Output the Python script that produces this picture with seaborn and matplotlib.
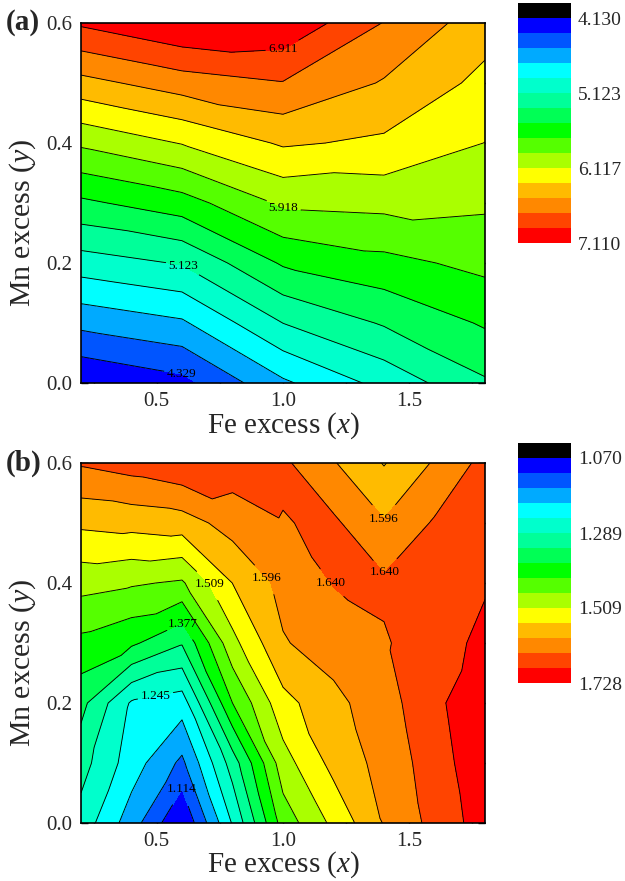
import numpy as np
import matplotlib
matplotlib.use("Agg")
import matplotlib.pyplot as plt
from matplotlib.colors import ListedColormap, BoundaryNorm
from matplotlib.tri import Triangulation
import seaborn as sns

# ---------------- data ----------------
mn_excess = [0.0, 0.1, 0.2, 0.3, 0.4, 0.5, 0.6]

fe_excess_a = [0.2, 0.6, 1.0, 1.4, 1.8]
z_a = [
    [4.130, 4.264, 4.692, 4.988, 5.296],
    [4.582, 4.696, 5.125, 5.342, 5.544],
    [5.029, 5.138, 5.546, 5.661, 5.774],
    [5.481, 5.633, 5.950, 5.975, 5.951],
    [5.953, 6.127, 6.341, 6.280, 6.114],
    [6.449, 6.612, 6.702, 6.497, 6.260],
    [6.941, 7.110, 7.076, 6.704, 6.405],
]

fe_excess_b = [0.2, 0.4, 0.6, 0.8, 1.0, 1.2, 1.4, 1.6, 1.8]
z_b = [
    [1.272, 1.1785, 1.070, 1.249, 1.440, 1.519, 1.599, 1.654, 1.706],
    [1.3066, 1.2234, 1.148, 1.310, 1.490, 1.5663, 1.612, 1.662, 1.718],
    [1.3467, 1.240, 1.2225, 1.421, 1.538, 1.584, 1.623, 1.6714, 1.728],
    [1.4094, 1.385, 1.337, 1.495, 1.593, 1.6166, 1.636, 1.665, 1.695],
    [1.4806, 1.470, 1.4591, 1.553, 1.610, 1.642, 1.648, 1.665, 1.680],
    [1.5614, 1.568, 1.5756, 1.615, 1.638, 1.648, 1.600, 1.645, 1.667],
    [1.6453, 1.660, 1.678, 1.665, 1.6486, 1.5996, 1.550, 1.601, 1.6544],
]

range_a = [4.130, 7.110]
range_b = [1.070, 1.728]
cbar_labels_a = ["4.130", "5.123", "6.117", "7.110"]
cbar_labels_b = ["1.070", "1.289", "1.509", "1.728"]
label_levels_a = [1, 5, 9, 14]
label_pos_a = [(0.6, 0.017), (0.6, 0.191), (1.0, 0.292), (1.0, 0.557)]
label_levels_b = [1, 4, 7, 10, 12, 13]
label_pos_b = [(0.6, 0.06), (0.5, 0.2), (0.6, 0.33), (0.718, 0.4), (0.916, 0.4),
               (1.186, 0.398), (1.404, 0.505), (1.404, 0.418)]

block_colors = ["#000000", "#0000FF", "#0055FF", "#00AAFF", "#00FFFF", "#00FFCC",
                "#00FF99", "#00FF55", "#00FF00", "#55FF00", "#AAFF00", "#FFFF00",
                "#FFBB00", "#FF8800", "#FF4400", "#FF0000"]

# ---------------- style ----------------
sns.set_style("ticks")
plt.rcParams["font.family"] = ["Liberation Serif", "DejaVu Serif"]
plt.rcParams["mathtext.fontset"] = "custom"
plt.rcParams["mathtext.rm"] = "Liberation Serif"
plt.rcParams["mathtext.it"] = "Liberation Serif:italic"

W, H = 625, 881
fig = plt.figure(figsize=(W / 100, H / 100), dpi=100)


def fx(px):
    return px / W


def fy(py):
    return 1 - py / H


def grid_triangulation(fe, Z):
    """Split every grid cell along its flatter diagonal (linear interpolation)."""
    nx, ny = len(fe), len(mn_excess)
    X, Y = np.meshgrid(fe, mn_excess)
    zf = Z.ravel()
    tris = []
    for j in range(ny - 1):
        for i in range(nx - 1):
            bl, br = j * nx + i, j * nx + i + 1
            tl, tr = (j + 1) * nx + i, (j + 1) * nx + i + 1
            if abs(zf[tl] - zf[br]) < abs(zf[bl] - zf[tr]):
                tris += [[bl, br, tl], [br, tr, tl]]
            else:
                tris += [[bl, br, tr], [bl, tr, tl]]
    return Triangulation(X.ravel(), Y.ravel(), np.array(tris))


def panel(top_px, fe, z, rng, cbar_labels, lab_levels, lab_pos, tag, xlab_base):
    ax = fig.add_axes([fx(81), fy(top_px + 360), fx(404), 360 / H])
    levels = np.linspace(rng[0], rng[1], 16)
    cmap = ListedColormap(block_colors[1:])
    cmap.set_under(block_colors[0])
    cmap.set_over(block_colors[-1])
    norm = BoundaryNorm(levels, cmap.N)
    Z = np.array(z)
    tri = grid_triangulation(fe, Z)
    zf = Z.ravel()
    ax.tricontourf(tri, zf, levels=levels, cmap=cmap, norm=norm, extend="both")
    plain = [levels[k] for k in range(1, 15) if k not in lab_levels]
    labeled = [levels[k] for k in lab_levels]
    ax.tricontour(tri, zf, levels=plain, colors="k", linewidths=0.65)
    cl = ax.tricontour(tri, zf, levels=labeled, colors="k", linewidths=0.65)
    texts = ax.clabel(cl, manual=lab_pos, inline=True, fmt="%.3f", fontsize=9.5,
                      inline_spacing=3)
    for t in texts:
        t.set_rotation(0)
    ax.set_xlim(0.2, 1.8)
    ax.set_ylim(0.0, 0.6)
    ax.set_xticks([0.5, 1.0, 1.5])
    ax.set_xticks([0.25, 0.75, 1.25, 1.75], minor=True)
    ax.set_yticks([0.0, 0.2, 0.4, 0.6])
    ax.set_yticks([0.1, 0.3, 0.5], minor=True)
    ax.set_xticklabels(["0.5", "1.0", "1.5"])
    ax.set_yticklabels(["0.0", "0.2", "0.4", "0.6"])
    for which in ("major", "minor"):
        ax.tick_params(which=which, direction="in", top=True, right=True,
                       length=5, width=1.0, color="k")
    ax.tick_params(which="major", labelsize=15, pad=6)
    ax.tick_params(axis="x", which="major", pad=6.5)
    for s in ax.spines.values():
        s.set_linewidth(1.2)
        s.set_color("k")
    fig.text(fx(283), fy(xlab_base), "Fe excess ($x$)", fontsize=21,
             ha="center", va="baseline")
    fig.text(fx(23), fy(top_px + 200), "Mn excess ($y$)", fontsize=21.5,
             ha="center", va="center", rotation=90)
    fig.text(fx(6), fy(top_px), tag, fontsize=21, fontweight="bold",
             ha="left", va="center")

    # discrete colour scale drawn with seaborn
    cax = fig.add_axes([fx(518), fy(top_px - 20 + 240), fx(53), 240 / H])
    sns.heatmap(np.arange(16).reshape(-1, 1), ax=cax,
                cmap=ListedColormap(block_colors), cbar=False,
                xticklabels=False, yticklabels=False)
    cax.set_yticks([1, 6, 11, 16])
    cax.set_yticklabels(cbar_labels, fontsize=14)
    cax.yaxis.tick_right()
    cax.tick_params(axis="y", length=0, pad=5, labelrotation=0)
    cax.set_ylabel("")
    cax.set_xlabel("")
    return ax


panel(23, fe_excess_a, z_a, range_a, cbar_labels_a, label_levels_a, label_pos_a, "(a)", 433)
panel(463, fe_excess_b, z_b, range_b, cbar_labels_b, label_levels_b, label_pos_b, "(b)", 872)

fig.savefig("out.png", dpi=100)
